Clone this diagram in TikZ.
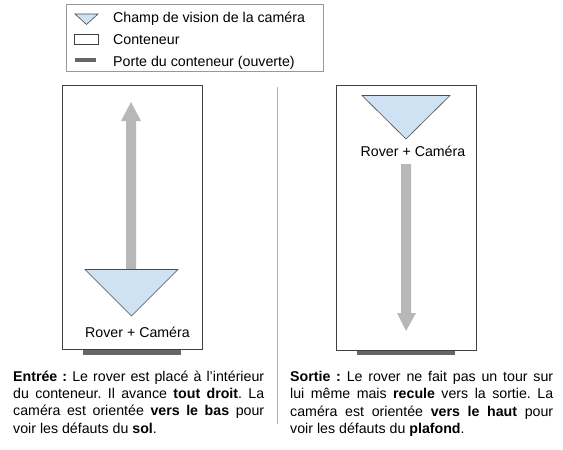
\documentclass[tikz,border=0pt]{standalone}
\usepackage{fontspec}
\setmainfont{Liberation Sans}
\newcommand{\jl}[2]{\makebox[#1][s]{#2}}
\tikzset{
  boxline/.style={draw=black!75,line width=0.8pt},
  cam/.style={draw=black!70,line width=0.6pt,fill=camblue,line join=miter},
  doorbar/.style={fill=doorgray},
  bigarrow/.style={fill=arrowgray},
  lbl/.style={anchor=base west,inner sep=0pt,font=\fontsize{14.2}{16}\selectfont},
  rov/.style={anchor=base,inner sep=0pt,font=\fontsize{14.2}{16}\selectfont},
  para/.style={anchor=north west,inner sep=0pt,align=left,font=\fontsize{14.2}{17.3}\selectfont\frenchspacing}
}
\definecolor{camblue}{HTML}{CFE2F3}
\definecolor{doorgray}{HTML}{666666}
\definecolor{arrowgray}{HTML}{B7B7B7}
\begin{document}
\begin{tikzpicture}[x=1pt,y=-1pt]
\useasboundingbox (0,0) rectangle (563,450);
% legend
\draw[draw=black!40,line width=0.8pt,fill=white] (66.5,4.5) rectangle (323,71);
\draw[cam] (75,14) -- (98,14) -- (86.5,24.5) -- cycle;
\draw[boxline,line width=0.6pt] (74.5,34.5) rectangle (98,44);
\fill[doorbar] (75,58) rectangle (96,61.5);
\node[lbl] (l1) at (113,22) {Champ de vision de la caméra};
\node[lbl] (l2) at (113,44) {Conteneur};
\node[lbl] (l3) at (113,66.5) {Porte du conteneur (ouverte)};
% divider
\draw[draw=black!30,line width=0.8pt] (277,87) -- (277,424);
% left
\fill[doorbar] (83,349) rectangle (181,354.5);
\draw[boxline] (62,85.5) rectangle (202,349);
\fill[bigarrow] (126,269) -- (126,121) -- (121,121) -- (131,102) -- (141,121) -- (136,121) -- (136,269) -- cycle;
\draw[cam] (85,269.5) -- (178,269.5) -- (131.5,316) -- cycle;
\node[rov] (r1) at (137.5,337) {Rover + Caméra};
% right
\fill[doorbar] (357,350) rectangle (455,354.5);
\draw[boxline] (336,85.5) rectangle (476,350);
\fill[bigarrow] (401,164) -- (411,164) -- (411,313) -- (416,313) -- (406,331) -- (397,313) -- (401,313) -- cycle;
\draw[cam] (362,95.5) -- (450,95.5) -- (406,139) -- cycle;
\node[rov] (r2) at (413,156) {Rover + Caméra};
% paragraphs
\node[para] (p1) at (13,370.5) {\jl{251pt}{\textbf{Entrée :} Le rover est placé à l'intérieur}\\
\jl{251pt}{du conteneur. Il avance \textbf{tout droit}. La}\\
\jl{251pt}{caméra est orientée \textbf{vers le bas} pour}\\
voir les défauts du \textbf{sol}.};
\node[para] (p2) at (290,371) {\jl{263pt}{\textbf{Sortie :} Le rover ne fait pas un tour sur}\\
\jl{263pt}{lui même mais \textbf{recule} vers la sortie. La}\\
\jl{263pt}{caméra est orientée \textbf{vers le haut} pour}\\
voir les défauts du \textbf{plafond}.};
\end{tikzpicture}
\end{document}
